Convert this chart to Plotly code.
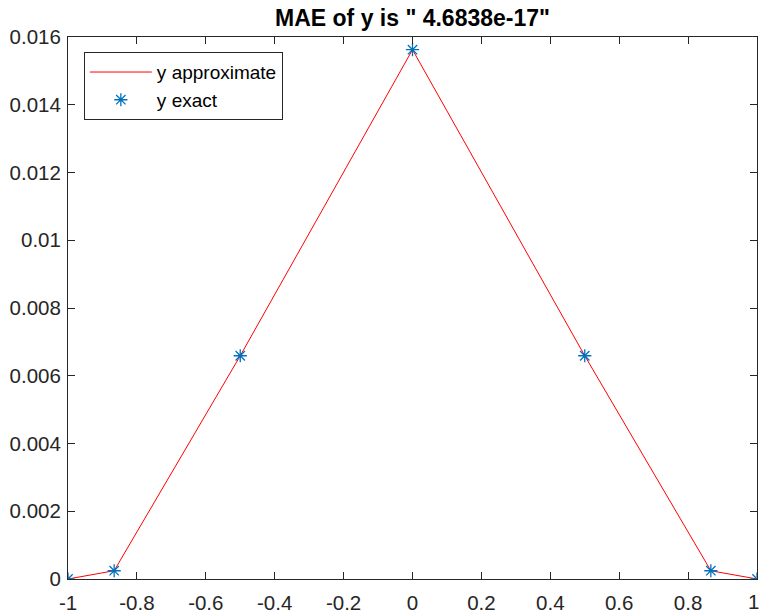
import plotly.graph_objects as go

x_vals = [-1.0, -0.8660, -0.5, 0.0, 0.5, 0.8660, 1.0]
y_approx = [0.0, 0.000244, 0.00659, 0.015625, 0.00659, 0.000244, 0.0]
y_exact = [0.0, 0.000244, 0.00659, 0.015625, 0.00659, 0.000244, 0.0]
x_ticks = [-1, -0.8, -0.6, -0.4, -0.2, 0, 0.2, 0.4, 0.6, 0.8, 1]
x_tick_text = ["-1", "-0.8", "-0.6", "-0.4", "-0.2", "0", "0.2", "0.4", "0.6", "0.8", "1"]
y_ticks = [0, 0.002, 0.004, 0.006, 0.008, 0.01, 0.012, 0.014, 0.016]
y_tick_text = ["0", "0.002", "0.004", "0.006", "0.008", "0.01", "0.012", "0.014", "0.016"]
title_text = 'MAE of y is " 4.6838e-17"'

FONT = "Liberation Sans, Arial, Helvetica"
TICK_FONT = dict(family=FONT, size=20.5, color="#262626")

fig = go.Figure()
fig.add_trace(go.Scatter(x=x_vals, y=y_approx, mode="lines", name="y approximate",
                         line=dict(color="#FF0000", width=1)))
fig.add_trace(go.Scatter(x=x_vals, y=y_exact, mode="markers", name="y exact",
                         marker=dict(symbol="asterisk-open", size=11, color="#0072BD",
                                     line=dict(color="#0072BD", width=1.3))))

axis_common = dict(showgrid=False, zeroline=False, showline=True, mirror="ticks",
                   linecolor="#262626", linewidth=1, ticks="inside", ticklen=7,
                   tickcolor="#262626", automargin=False, tickfont=TICK_FONT)

# last x tick label sits at the right edge of the figure: draw it right-anchored
shown_x_text = x_tick_text[:-1] + [""]
edge_label = dict(text=x_tick_text[-1], x=x_ticks[-1], xref="x", y=0, yref="y",
                  xanchor="right", yanchor="top", xshift=3, yshift=-10, borderpad=0,
                  showarrow=False, font=TICK_FONT)

fig.update_layout(
    width=760, height=614,
    margin=dict(l=68, r=3, t=37, b=35, autoexpand=False),
    paper_bgcolor="white", plot_bgcolor="white",
    title=dict(text="<b>" + title_text + "</b>", xref="paper", x=0.5, xanchor="center",
               yref="container", y=0.971, yanchor="middle", automargin=False,
               font=dict(family=FONT, size=23, color="black")),
    xaxis=dict(range=[-1, 1], tickvals=x_ticks, ticktext=shown_x_text,
               ticklabelstandoff=5, **axis_common),
    yaxis=dict(range=[0, 0.016], tickvals=y_ticks, ticktext=y_tick_text,
               ticklabelstandoff=2, **axis_common),
    legend=dict(x=0.023, y=0.972, xanchor="left", yanchor="top", bgcolor="white",
                bordercolor="#262626", borderwidth=1, itemwidth=62,
                font=dict(family=FONT, size=19, color="black"),
                tracegroupgap=0),
    annotations=[edge_label],
    showlegend=True,
)
fig.write_html("out.html")
